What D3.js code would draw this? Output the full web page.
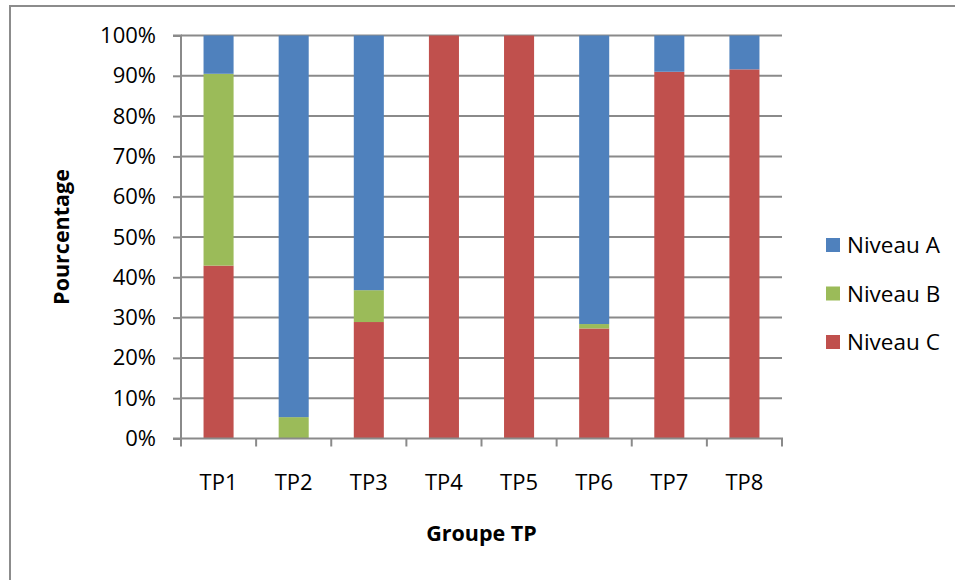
<!DOCTYPE html>
<html>
<head>
<meta charset="utf-8">
<script src="https://cdn.jsdelivr.net/npm/d3@7"></script>
<style>
  html, body { margin: 0; padding: 0; background: #fff; }
  svg { display: block; }
  text { font-family: "Open Sans", sans-serif; fill: #000; }
</style>
</head>
<body>
<svg id="chart" width="955" height="580"></svg>
<script>
// Groups and the share of students at each level (percent)
const groups = ["TP1", "TP2", "TP3", "TP4", "TP5", "TP6", "TP7", "TP8"];
const niveauC = [42.9, 0, 28.9, 100, 100, 27.3, 91.0, 91.6];
const niveauB = [47.6, 5.3, 7.9, 0, 0, 1.1, 0, 0];
const niveauA = [9.5, 94.7, 63.2, 0, 0, 71.6, 9.0, 8.4];
const seriesNames = ["Niveau A", "Niveau B", "Niveau C"];
const seriesColors = ["#4F81BD", "#9BBB59", "#C0504D"];
const yTicks = [0, 0.1, 0.2, 0.3, 0.4, 0.5, 0.6, 0.7, 0.8, 0.9, 1];

const rows = groups.map((g, i) => ({
  group: g,
  "Niveau C": niveauC[i],
  "Niveau B": niveauB[i],
  "Niveau A": niveauA[i]
}));

const svg = d3.select("#chart");
const plot = { left: 181, right: 782, top: 35.5, bottom: 438.5 };

// outer chart frame
svg.append("rect")
  .attr("x", 10).attr("y", 6)
  .attr("width", 960).attr("height", 600)
  .attr("fill", "none")
  .attr("stroke", "#8c8c8c")
  .attr("stroke-width", 2);

const x = d3.scaleBand().domain(groups).range([plot.left, plot.right]).paddingInner(0.6).paddingOuter(0.3);
const xCat = d3.scaleBand().domain(groups).range([plot.left, plot.right]);
const y = d3.scaleLinear().domain([0, 1]).range([plot.bottom, plot.top]);

// horizontal gridlines
svg.append("g")
  .selectAll("line")
  .data(yTicks.filter(t => t > 0))
  .join("line")
  .attr("x1", plot.left).attr("x2", plot.right)
  .attr("y1", d => y(d)).attr("y2", d => y(d))
  .attr("stroke", "#8a8a8a").attr("stroke-width", 2);

// stacked bars, bottom to top: C, B, A
const stack = d3.stack().keys(["Niveau C", "Niveau B", "Niveau A"]);
const layers = stack(rows);
const colorOf = d3.scaleOrdinal().domain(seriesNames).range(seriesColors);

svg.append("g")
  .selectAll("g")
  .data(layers)
  .join("g")
  .attr("fill", d => colorOf(d.key))
  .selectAll("rect")
  .data(d => d)
  .join("rect")
  .attr("x", d => x(d.data.group))
  .attr("width", x.bandwidth())
  .attr("y", d => y(d[1] / 100))
  .attr("height", d => y(d[0] / 100) - y(d[1] / 100));

// y axis
const yAxis = d3.axisLeft(y)
  .tickValues(yTicks)
  .tickFormat(d3.format(".0%"))
  .tickSize(8)
  .tickPadding(17);
const gy = svg.append("g").attr("transform", `translate(${plot.left},0)`).call(yAxis);
gy.select(".domain").attr("stroke", "#8a8a8a").attr("stroke-width", 2)
  .attr("d", `M-8,${plot.top}H0V${plot.bottom}H-8`);
gy.selectAll(".tick line").attr("stroke", "#8a8a8a").attr("stroke-width", 2);
gy.selectAll(".tick text").style("font-size", "22px").style("font-family", "Open Sans, sans-serif").attr("fill", "#000");

// x axis, ticks on category boundaries
const gx = svg.append("g").attr("transform", `translate(0,${plot.bottom})`);
gx.append("line")
  .attr("x1", plot.left - 1).attr("x2", plot.right + 1)
  .attr("stroke", "#8a8a8a").attr("stroke-width", 2);
gx.selectAll("line.tk")
  .data(groups.map(g => xCat(g)).concat([plot.right]))
  .join("line")
  .attr("class", "tk")
  .attr("x1", d => d).attr("x2", d => d)
  .attr("y1", 0).attr("y2", 8)
  .attr("stroke", "#8a8a8a").attr("stroke-width", 2);
gx.selectAll("text")
  .data(groups)
  .join("text")
  .attr("x", d => xCat(d) + xCat.bandwidth() / 2)
  .attr("y", 51)
  .attr("text-anchor", "middle")
  .style("font-size", "22px")
  .text(d => d);

// axis titles
svg.append("text")
  .attr("transform", `translate(69,${(plot.top + plot.bottom) / 2}) rotate(-90)`)
  .attr("text-anchor", "middle")
  .style("font-size", "21.5px")
  .style("font-weight", "bold")
  .text("Pourcentage");

svg.append("text")
  .attr("x", (plot.left + plot.right) / 2)
  .attr("y", 541)
  .attr("text-anchor", "middle")
  .style("font-size", "21.5px")
  .style("font-weight", "bold")
  .text("Groupe TP");

// legend
const legend = svg.append("g").attr("transform", "translate(826,238)");
const item = legend.selectAll("g")
  .data(seriesNames)
  .join("g")
  .attr("transform", (d, i) => `translate(0,${i * 48.5})`);
item.append("rect")
  .attr("width", 14).attr("height", 14)
  .attr("fill", d => colorOf(d));
item.append("text")
  .attr("x", 21).attr("y", 15)
  .style("font-size", "22.5px")
  .text(d => d);
</script>
</body>
</html>
